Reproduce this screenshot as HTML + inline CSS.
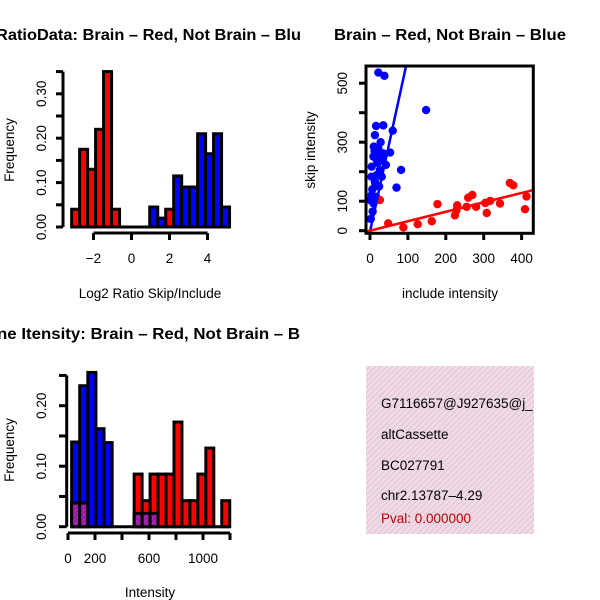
<!DOCTYPE html>
<html><head><meta charset="utf-8"><style>
body{margin:0;background:#fff}
svg{display:block;font-family:"Liberation Sans",sans-serif}
</style></head><body>
<svg id="c" width="600" height="600" xmlns="http://www.w3.org/2000/svg">
<defs>
<pattern id="hatch" width="4" height="4" patternUnits="userSpaceOnUse" patternTransform="rotate(45)">
<rect width="4" height="4" fill="#f7d7f0"/><rect width="1.3" height="4" fill="#d8d0c8"/>
</pattern>
<pattern id="phatch" width="3" height="3" patternUnits="userSpaceOnUse" patternTransform="rotate(45)">
<rect width="3" height="3" fill="#8a1aa8"/><rect width="1" height="3" fill="#c030a0"/>
</pattern>
</defs>
<g id="p1"></g>
<g id="p2"></g>
<g id="p3"></g>
<g id="info">
<rect x="366" y="366" width="168" height="168" fill="url(#hatch)"/>
<text x="381" y="408" font-size="13.5">G7116657@J927635@j_</text>
<text x="381" y="439" font-size="13.5">altCassette</text>
<text x="381" y="470" font-size="13.5">BC027791</text>
<text x="381" y="500" font-size="13.5">chr2.13787–4.29</text>
<text x="381" y="523" font-size="13.5" fill="#c00000">Pval: 0.000000</text>
</g>
<rect x="534" y="360" width="66" height="180" fill="#fff"/>
</svg>
<script>
// ---- Plot 1 data: Log2 ratio histogram
const ratioBinWidth = 0.42;
const ratioRedEdges = [-3.15,-2.73,-2.31,-1.89,-1.47,-1.05,1.80];
const ratioRedFreq  = [0.04,0.175,0.13,0.22,0.35,0.04,0.04];
const ratioBlueEdges = [0.96,1.38,2.22,2.64,3.06,3.48,3.90,4.32,4.74];
const ratioBlueFreq  = [0.045,0.02,0.115,0.09,0.09,0.21,0.165,0.21,0.045];
const ratioXTicks = [-2,0,2,4];
const ratioYTicks = [0,0.05,0.10,0.15,0.20,0.25,0.30,0.35];
const ratioYLabels = ["0.00","0.10","0.20","0.30"];
// ---- Plot 2 data: scatter
const blueInclude = [22,38,148,16,35,13,60,22,53,9,31,42,4.5,82,18,13,70,24,4.5,9,7,10,18,26,4,31,13,22,35,0.3,16,28,20,12,6,2];
const blueSkip    = [536,525,409,355,357,324,339,279,265,251,240,223,217,206,189,150,146,150,121,93,65,285,240,206,183,183,166,251,262,104,115,300,230,270,140,40];
const redInclude = [26,48,88,126,163,178,224,230,255,259,270,280,308,304,317,343,369,378,413,409,228];
const redSkip    = [104,25,11,22,32,90,52,86,81,112,121,81,60,94,101,92,162,154,116,73,69];
const blueSlope = 5.9, blueIntercept = -3;
const redSlope = 0.32, redIntercept = 0;
const scatXTicks = [0,100,200,300,400];
const scatYTicks = [0,100,200,300,400,500];
const scatYLabels = ["0","100","","300","","500"];
// ---- Plot 3 data: intensity histogram
const intBlueWidth = 60, intRedWidth = 59;
const intBlueEdges = [27,87,147,207,267];
const intBlueFreq  = [0.14,0.233,0.255,0.162,0.139];
const intBlueOverlap = [0.039,0.039,0,0,0];
const intRedEdges = [490,549,608,667,726,785,844,903,962,1021,1080,1139];
const intRedFreq  = [0.087,0.043,0.087,0.087,0.087,0.173,0.043,0.043,0.087,0.13,0,0.043];
const intRedOverlap = [0.022,0.022,0.022,0,0,0,0,0,0,0,0,0];
const intXTicks = [0,200,400,600,800,1000,1200];
const intXLabels = ["0","200","","600","","1000",""];
const intYTicks = [0,0.05,0.10,0.15,0.20,0.25];
const intYLabels = ["0.00","0.10","0.20"];

const NS="http://www.w3.org/2000/svg";
const FS=13.5;
function mk(parent,tag,attrs,text){const e=document.createElementNS(NS,tag);for(const k in attrs)e.setAttribute(k,attrs[k]);if(text!==undefined)e.textContent=text;parent.appendChild(e);return e;}

// Plot 1
(function(){
const g=document.getElementById('p1');
const sx=v=>131.5+v*19, sy=v=>227-v*444;
const tt=mk(g,'text',{x:-4,y:40,'font-size':16,'font-weight':'bold',textLength:305,lengthAdjust:'spacingAndGlyphs'},"RatioData: Brain – Red, Not Brain – Blu");

const bl=mk(g,'line',{x1:sx(-3.15),x2:sx(5.1),y1:sy(0),y2:sy(0),stroke:'#000','stroke-width':3});

ratioRedEdges.forEach((e,i)=>{const r=mk(g,'rect',{x:sx(e),y:sy(ratioRedFreq[i]),width:sx(e+ratioBinWidth)-sx(e),height:sy(0)-sy(ratioRedFreq[i]),fill:'#f00',stroke:'#000','stroke-width':3});
});
ratioBlueEdges.forEach((e,i)=>{const r=mk(g,'rect',{x:sx(e),y:sy(ratioBlueFreq[i]),width:sx(e+ratioBinWidth)-sx(e),height:sy(0)-sy(ratioBlueFreq[i]),fill:'#00f',stroke:'#000','stroke-width':3});
});
const ya=mk(g,'line',{x1:63,x2:63,y1:sy(0),y2:sy(0.35),stroke:'#000','stroke-width':3});

ratioYTicks.forEach(t=>mk(g,'line',{x1:56,x2:63,y1:sy(t),y2:sy(t),stroke:'#000','stroke-width':3}));
ratioYLabels.forEach((l,i)=>{const y=sy(i*0.1);const t=mk(g,'text',{x:46,y:y,'font-size':FS,'text-anchor':'middle',transform:`rotate(-90 46 ${y})`},l);});
const xa=mk(g,'line',{x1:sx(-2),x2:sx(4),y1:233,y2:233,stroke:'#000','stroke-width':3});

ratioXTicks.forEach(t=>{mk(g,'line',{x1:sx(t),x2:sx(t),y1:233,y2:240,stroke:'#000','stroke-width':3});
const l=mk(g,'text',{x:sx(t),y:263,'font-size':FS,'text-anchor':'middle'},t<0?'−'+(-t):String(t));});
const yt=mk(g,'text',{x:14,y:150,'font-size':FS,'text-anchor':'middle',transform:'rotate(-90 14 150)'},'Frequency');
const xt=mk(g,'text',{x:150,y:298,'font-size':FS,'text-anchor':'middle'},'Log2 Ratio Skip/Include');
})();

// Plot 2
(function(){
const g=document.getElementById('p2');
const sx=v=>370+v*0.379, sy=v=>230.7-v*0.295;
const t=mk(g,'text',{x:450,y:40,'font-size':16,'font-weight':'bold','text-anchor':'middle',textLength:232,lengthAdjust:'spacingAndGlyphs'},"Brain – Red, Not Brain – Blue");
const clip=mk(g,'clipPath',{id:'sc'});mk(clip,'rect',{x:366,y:66,width:167.3,height:167.3});
const pg=mk(g,'g',{'clip-path':'url(#sc)'});
blueInclude.forEach((v,i)=>{const c=mk(pg,'circle',{cx:sx(v),cy:sy(blueSkip[i]),r:4.2,fill:'#00f'});});
redInclude.forEach((v,i)=>{const c=mk(pg,'circle',{cx:sx(v),cy:sy(redSkip[i]),r:4.2,fill:'#f00'});});
const bl=mk(pg,'line',{x1:sx(-10),y1:sy(blueIntercept-10*blueSlope),x2:sx(120),y2:sy(blueIntercept+120*blueSlope),stroke:'#00f','stroke-width':2.5});
const rl=mk(pg,'line',{x1:sx(-20),y1:sy(redIntercept-20*redSlope),x2:sx(460),y2:sy(redIntercept+460*redSlope),stroke:'#f00','stroke-width':2.5});
const box=mk(g,'rect',{x:366,y:66,width:167.3,height:167.3,fill:'none',stroke:'#000','stroke-width':3});
scatXTicks.forEach(v=>{mk(g,'line',{x1:sx(v),x2:sx(v),y1:233,y2:240,stroke:'#000','stroke-width':3});
const l=mk(g,'text',{x:sx(v),y:263,'font-size':FS,'text-anchor':'middle'},String(v));});
scatYTicks.forEach((v,i)=>{mk(g,'line',{x1:359,x2:366,y1:sy(v),y2:sy(v),stroke:'#000','stroke-width':3});
if(scatYLabels[i]){const l=mk(g,'text',{x:347,y:sy(v),'font-size':FS,'text-anchor':'middle',transform:`rotate(-90 347 ${sy(v)})`},scatYLabels[i]);}});
const yt=mk(g,'text',{x:315,y:150,'font-size':FS,'text-anchor':'middle',transform:'rotate(-90 315 150)'},'skip intensity');
const xt=mk(g,'text',{x:450,y:298,'font-size':FS,'text-anchor':'middle'},'include intensity');
})();

// Plot 3
(function(){
const g=document.getElementById('p3');
const sx=v=>68+v*0.135, sy=v=>526.7-v*605;
const t=mk(g,'text',{x:-3,y:339,'font-size':16,'font-weight':'bold',textLength:303,lengthAdjust:'spacingAndGlyphs'},"ne Itensity: Brain – Red, Not Brain – B");
const bl=mk(g,'line',{x1:sx(27),x2:sx(1198),y1:sy(0),y2:sy(0),stroke:'#000','stroke-width':3});
intRedEdges.forEach((e,i)=>{const r=mk(g,'rect',{x:sx(e),y:sy(intRedFreq[i]),width:sx(e+intRedWidth)-sx(e),height:sy(0)-sy(intRedFreq[i]),fill:'#f00',stroke:'#000','stroke-width':3});
if(intRedOverlap[i]>0){const o=mk(g,'rect',{x:sx(e),y:sy(intRedOverlap[i]),width:sx(e+intRedWidth)-sx(e),height:sy(0)-sy(intRedOverlap[i]),fill:'url(#phatch)',stroke:'#000','stroke-width':3});}});
intBlueEdges.forEach((e,i)=>{const r=mk(g,'rect',{x:sx(e),y:sy(intBlueFreq[i]),width:sx(e+intBlueWidth)-sx(e),height:sy(0)-sy(intBlueFreq[i]),fill:'#00f',stroke:'#000','stroke-width':3});
if(intBlueOverlap[i]>0){const o=mk(g,'rect',{x:sx(e),y:sy(intBlueOverlap[i]),width:sx(e+intBlueWidth)-sx(e),height:sy(0)-sy(intBlueOverlap[i]),fill:'url(#phatch)',stroke:'#000','stroke-width':3});}});
const ya=mk(g,'line',{x1:66.7,x2:66.7,y1:sy(0),y2:sy(0.25),stroke:'#000','stroke-width':3});
intYTicks.forEach(v=>mk(g,'line',{x1:59,x2:66.7,y1:sy(v),y2:sy(v),stroke:'#000','stroke-width':3}));
intYLabels.forEach((l,i)=>{const y=sy(i*0.1);const e=mk(g,'text',{x:46,y:y,'font-size':FS,'text-anchor':'middle',transform:`rotate(-90 46 ${y})`},l);});
const xa=mk(g,'line',{x1:sx(0),x2:sx(1200),y1:533,y2:533,stroke:'#000','stroke-width':3});
intXTicks.forEach((v,i)=>{mk(g,'line',{x1:sx(v),x2:sx(v),y1:533,y2:540,stroke:'#000','stroke-width':3});
if(intXLabels[i]){const l=mk(g,'text',{x:sx(v),y:563,'font-size':FS,'text-anchor':'middle'},intXLabels[i]);}});
const yt=mk(g,'text',{x:14,y:450,'font-size':FS,'text-anchor':'middle',transform:'rotate(-90 14 450)'},'Frequency');
const xt=mk(g,'text',{x:150,y:597,'font-size':FS,'text-anchor':'middle'},'Intensity');
})();
</script>
</body></html>
